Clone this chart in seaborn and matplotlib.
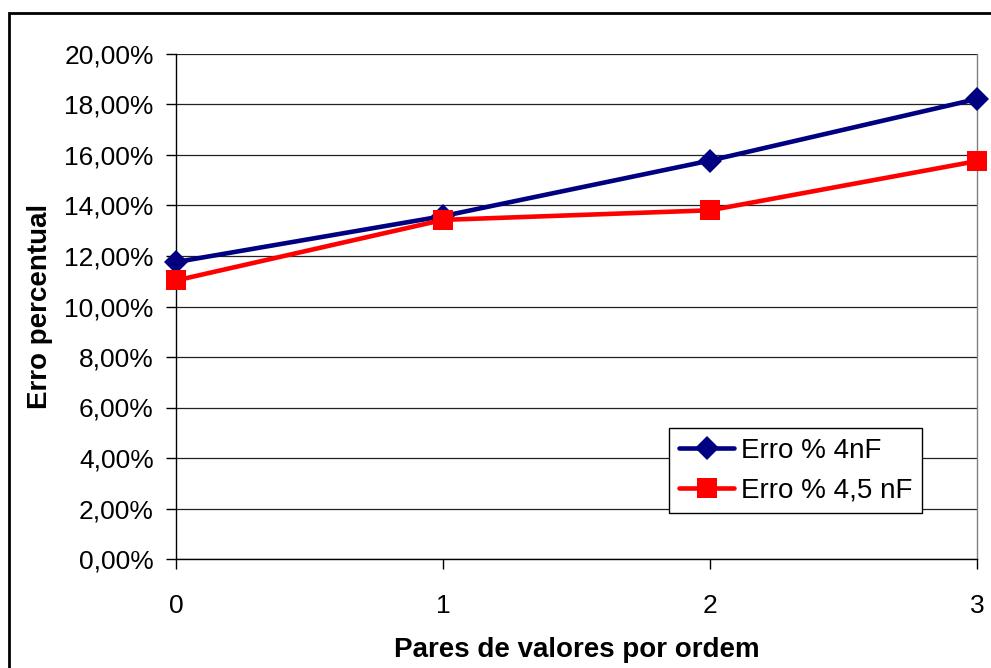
import matplotlib
matplotlib.use("Agg")
import matplotlib.pyplot as plt
import matplotlib.patches as mpatches
from matplotlib.ticker import FuncFormatter, MultipleLocator
import seaborn as sns
import pandas as pd

x_vals = [0, 1, 2, 3]
erro_4nF = [0.1176, 0.1358, 0.1578, 0.1822]
erro_45nF = [0.1103, 0.1343, 0.1381, 0.1576]
series_names = ["Erro % 4nF", "Erro % 4,5 nF"]

df = pd.DataFrame({
    "x": x_vals * 2,
    "y": erro_4nF + erro_45nF,
    "serie": [series_names[0]] * 4 + [series_names[1]] * 4,
})

sns.set_theme(style="white")
plt.rcParams["font.family"] = ["Liberation Sans", "DejaVu Sans"]
plt.rcParams["text.color"] = "black"
plt.rcParams["axes.labelcolor"] = "black"

fig = plt.figure(figsize=(9.91, 6.68), dpi=100)
ax = fig.add_axes([176/991, 1-559/668, (977-176)/991, (559-54)/668])

sns.lineplot(data=df, x="x", y="y", hue="serie", style="serie",
             palette={series_names[0]: "#000080", series_names[1]: "#FF0000"},
             markers={series_names[0]: "D", series_names[1]: "s"},
             dashes=False, linewidth=3.3, markeredgewidth=0,
             ax=ax, clip_on=False, zorder=5, legend=True)


def size_markers(lines):
    for line in lines:
        if line.get_marker() == "D":
            line.set_markersize(12)
        elif line.get_marker() == "s":
            line.set_markersize(14)


size_markers(ax.lines)

ax.set_xlim(0, 3)
ax.set_ylim(0, 0.2)
ax.xaxis.set_major_locator(MultipleLocator(1))
ax.yaxis.set_major_locator(MultipleLocator(0.02))
ax.yaxis.set_major_formatter(FuncFormatter(lambda v, p: f"{v*100:.2f}%".replace(".", ",")))
ax.tick_params(axis="both", labelsize=19, colors="black", length=7, width=1,
               direction="out", left=True, bottom=True)
ax.tick_params(axis="y", pad=9)
ax.tick_params(axis="x", pad=18)
ax.grid(axis="y", color="#222222", linewidth=0.9)
ax.grid(axis="x", visible=False)
ax.set_axisbelow(True)

ax.spines["top"].set_visible(False)
ax.spines["left"].set_color("black")
ax.spines["bottom"].set_color("black")
ax.spines["right"].set_color("#808080")
for s in ax.spines.values():
    s.set_linewidth(1)

ax.set_xlabel("Pares de valores por ordem", fontsize=20, fontweight="bold", labelpad=14, color="black")
ax.set_ylabel("Erro percentual", fontsize=20, fontweight="bold", labelpad=8, color="black")

handles, labels = ax.get_legend_handles_labels()
size_markers(handles)
leg = ax.legend(handles, labels, loc="upper left",
                bbox_to_anchor=((669-176)/801, (559-428)/505),
                fontsize=20, frameon=True, fancybox=False, framealpha=1,
                edgecolor="black", borderpad=0.35, handlelength=2.0,
                handletextpad=0.25, labelspacing=0.5, borderaxespad=0)
leg.get_frame().set_linewidth(1)

rect = mpatches.Rectangle((9/991, -0.1), 1.2, 0.1 + 1 - 13/668, transform=fig.transFigure,
                          fill=False, edgecolor="black", linewidth=2, clip_on=False)
fig.patches.append(rect)

fig.savefig("out.png", dpi=100)
